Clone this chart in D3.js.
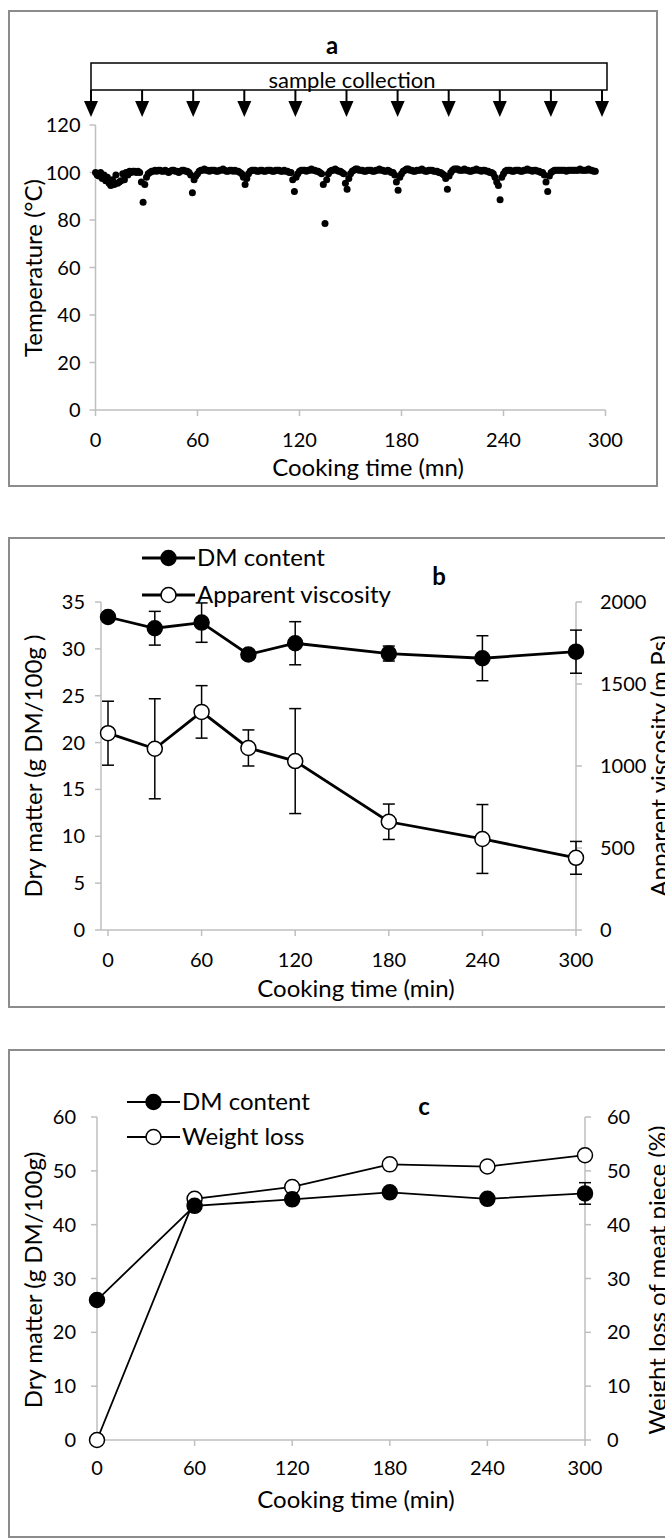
<!DOCTYPE html>
<html><head><meta charset="utf-8">
<script src="https://cdn.jsdelivr.net/npm/d3@7"></script>
<style>body{margin:0;background:#fff} svg text{font-family:Lato,"Open Sans",sans-serif;fill:#000}</style>
</head><body><svg id="chart" width="665" height="1539"></svg>
<script>
// ---------- Panel a data (temperature, one reading per minute) ----------
const tempC = [
/*0*/   100, 99, 98.5, 100, 97.5, 99, 96.5, 98, 95.5, 94.5, 97, 95, 99, 95.5, 96, 96.5, 99.5, 97, 100, 99,
/*20*/  100.5, 100, 100.5, 100.5, 100, 100.5, 100, 96, 87.5, 95, 98, 99.5, 100, 100.5, 100.5, 101, 100.5, 101, 101, 100.5,
/*40*/  100.5, 101, 100.5, 100, 100.5, 101, 101, 100.5, 100.5, 100, 100.5, 101, 101, 100.5, 100.5, 100, 99, 91.5, 97, 98.5,
/*60*/  99.5, 100.5, 101, 101, 101.5, 101, 101, 100.5, 101, 101, 101, 100.5, 100.5, 101, 101, 101.5, 101, 100.5, 100.5, 101,
/*80*/  101, 100.5, 101, 100.5, 100.5, 100, 99.5, 98, 95, 97.5, 99.5, 100.5, 101, 101, 101, 100.5, 100.5, 101, 101, 100.5,
/*100*/ 100.5, 101, 101, 101, 100.5, 100.5, 101, 101, 101, 100.5, 100.5, 101, 100.5, 100.5, 100, 100, 97, 92, 98, 99.5,
/*120*/ 100.5, 101, 101, 101, 100.5, 101, 101, 101.5, 101, 101, 100.5, 100.5, 100, 99.5, 95, 78.5, 97, 99.5, 100.5, 101,
/*140*/ 101, 101.5, 101, 100.5, 100.5, 100, 99.5, 95.5, 93, 97.5, 99.5, 100.5, 101, 101.5, 101.5, 101, 101, 101, 100.5, 100.5,
/*160*/ 101, 101, 101, 100.5, 100.5, 101, 101, 101.5, 101, 101, 100.5, 100.5, 101, 100.5, 100, 100, 99, 96, 92.5, 98,
/*180*/ 99.5, 100.5, 101, 101.5, 101.5, 101, 101, 100.5, 100.5, 101, 101, 101, 101.5, 101, 100.5, 100.5, 101, 101, 101, 100.5,
/*200*/ 100.5, 100.5, 100, 100, 99.5, 99, 97.5, 93, 98.5, 100, 101, 101.5, 101.5, 101.5, 101, 101, 101, 101.5, 101, 101,
/*220*/ 100.5, 100.5, 101, 101, 101.5, 101, 101, 100.5, 101, 101, 100.5, 100.5, 100, 100, 99.5, 98, 96, 94.5, 88.5, 98,
/*240*/ 99.5, 100.5, 101, 101, 101, 100.5, 100.5, 101, 101, 101, 100.5, 100.5, 101, 101, 101.5, 101, 101, 100.5, 101, 101,
/*260*/ 100.5, 100.5, 100, 100, 99, 96, 92, 98.5, 100, 100.5, 101, 101, 101, 101, 101, 101, 101, 100.5, 101, 101,
/*280*/ 101, 101, 101, 101, 101, 101.5, 101, 101, 101, 101, 101.5, 101, 101, 100.5, 100.5
];
const sampleTimes = [0, 30, 60, 90, 120, 150, 180, 210, 240, 270, 300];
const aXTicks = [0, 60, 120, 180, 240, 300];
const aYTicks = [0, 20, 40, 60, 80, 100, 120];

// ---------- Panel b data ----------
const bTimes = [0, 30, 60, 90, 120, 180, 240, 300];
const bDM = [33.4, 32.2, 32.8, 29.4, 30.6, 29.5, 29.0, 29.7];
const bDMerr = [0, 1.8, 2.1, 0, 2.3, 0.8, 2.4, 2.3];
const bVisc = [1200, 1105, 1330, 1110, 1030, 660, 555, 440];
const bViscErr = [195, 305, 160, 110, 320, 108, 210, 100];
const bXTicks = [0, 60, 120, 180, 240, 300];
const bLeftTicks = [0, 5, 10, 15, 20, 25, 30, 35];
const bRightTicks = [0, 500, 1000, 1500, 2000];

// ---------- Panel c data ----------
const cTimes = [0, 60, 120, 180, 240, 300];
const cDM = [26, 43.5, 44.7, 46, 44.8, 45.8];
const cDMerr = [0, 0, 0, 0, 0, 2];
const cWL = [0, 44.8, 47, 51.2, 50.8, 52.9];
const cXTicks = [0, 60, 120, 180, 240, 300];
const cYTicks = [0, 10, 20, 30, 40, 50, 60];

const svg = d3.select("#chart");
const AX = "#bfbfbf", FS = 20, TFS = 24;
svg.append("rect").attr("width", 665).attr("height", 1539).attr("fill", "#fff");

function frame(y0, y1, x1) {
  svg.append("rect").attr("x", 9).attr("y", y0).attr("width", x1 - 9).attr("height", y1 - y0)
    .attr("fill", "none").attr("stroke", "#8c8c8c").attr("stroke-width", 2);
}
function leftAxis(x, y, ticks, gap) {
  const g = svg.append("g");
  g.append("line").attr("x1", x).attr("x2", x).attr("y1", y.range()[0]).attr("y2", y.range()[1]).attr("stroke", AX).attr("stroke-width", 1.5);
  ticks.forEach(t => {
    g.append("line").attr("x1", x - 6).attr("x2", x).attr("y1", y(t)).attr("y2", y(t)).attr("stroke", AX).attr("stroke-width", 1.5);
    g.append("text").attr("x", x - gap).attr("y", y(t)).attr("dy", "0.35em").attr("text-anchor", "end").attr("font-size", FS).text(t);
  });
}
function rightAxis(x, y, ticks, gap) {
  const g = svg.append("g");
  g.append("line").attr("x1", x).attr("x2", x).attr("y1", y.range()[0]).attr("y2", y.range()[1]).attr("stroke", AX).attr("stroke-width", 1.5);
  ticks.forEach(t => {
    g.append("line").attr("x1", x).attr("x2", x + 6).attr("y1", y(t)).attr("y2", y(t)).attr("stroke", AX).attr("stroke-width", 1.5);
    g.append("text").attr("x", x + gap).attr("y", y(t)).attr("dy", "0.35em").attr("text-anchor", "start").attr("font-size", FS).text(t);
  });
}
function bottomAxis(y0, x, ticks, labY) {
  const g = svg.append("g");
  g.append("line").attr("x1", x.range()[0]).attr("x2", x.range()[1]).attr("y1", y0).attr("y2", y0).attr("stroke", AX).attr("stroke-width", 1.5);
  ticks.forEach(t => {
    g.append("line").attr("x1", x(t)).attr("x2", x(t)).attr("y1", y0).attr("y2", y0 + 6).attr("stroke", AX).attr("stroke-width", 1.5);
    g.append("text").attr("x", x(t)).attr("y", labY).attr("dy", "0.35em").attr("text-anchor", "middle").attr("font-size", FS).text(t);
  });
}
function label(txt, x, y, rot, opts = {}) {
  const t = svg.append("text").attr("transform", `translate(${x},${y}) rotate(${rot})`)
    .attr("text-anchor", opts.anchor || "middle").attr("dy", opts.dy || "0.35em").attr("font-size", opts.size || TFS).text(txt);
  if (opts.bold) t.attr("font-weight", "bold");
  return t;
}

// ================= Panel a =================
frame(11, 486, 657);
const xa = d3.scaleLinear().domain([0, 300]).range([95.5, 605.5]);
const ya = d3.scaleLinear().domain([0, 120]).range([410, 125]);
leftAxis(xa(0), ya, aYTicks, 15);
bottomAxis(ya(0), xa, aXTicks, 440);
label("Cooking time (mn)", 368, 468, 0);
label("Temperature (°C)", 34, 268, -90);
label("a", 332, 46, 0, {bold: true, size: 24});
svg.append("g").selectAll("circle").data(tempC).join("circle")
  .attr("cx", (d, i) => xa(i)).attr("cy", d => ya(d)).attr("r", 3.5).attr("fill", "#000");
// sample-collection annotation
const xs = d3.scaleLinear().domain([0, 300]).range([91, 602]);
svg.append("rect").attr("x", xs(0)).attr("y", 63).attr("width", xs(300) - xs(0) + 5).attr("height", 27)
  .attr("fill", "none").attr("stroke", "#000").attr("stroke-width", 1.5);
label("sample collection", 352, 80, 0, {size: 22});
sampleTimes.forEach(t => {
  svg.append("line").attr("x1", xs(t)).attr("x2", xs(t)).attr("y1", 90).attr("y2", 103).attr("stroke", "#000").attr("stroke-width", 2);
  svg.append("path").attr("d", `M${xs(t) - 7},101 L${xs(t) + 7},101 L${xs(t)},117 Z`).attr("fill", "#000");
});

// ================= Panel b =================
frame(538, 1007, 700);
const xb = d3.scaleLinear().domain([0, 300]).range([108, 576]);
const ybL = d3.scaleLinear().domain([0, 35]).range([930, 602]);
const ybR = d3.scaleLinear().domain([0, 2000]).range([930, 602]);
leftAxis(101, ybL, bLeftTicks, 16);
rightAxis(576, ybR, bRightTicks, 24);
svg.append("line").attr("x1", 101).attr("x2", 576).attr("y1", 930).attr("y2", 930).attr("stroke", AX).attr("stroke-width", 1.5);
bXTicks.forEach(t => {
  svg.append("line").attr("x1", xb(t)).attr("x2", xb(t)).attr("y1", 930).attr("y2", 936).attr("stroke", AX).attr("stroke-width", 1.5);
  svg.append("text").attr("x", xb(t)).attr("y", 960).attr("dy", "0.35em").attr("text-anchor", "middle").attr("font-size", FS).text(t);
});
label("Cooking time (min)", 356, 989, 0);
label("Dry matter (g DM/100g )", 34, 766, -90);
label("Apparent viscosity (m.Ps)", 668, 766, -90, {dy: "0"});
label("b", 439, 577, 0, {bold: true, size: 24});

function series(x, y, times, vals, errs, filled, lw, r) {
  const g = svg.append("g");
  g.append("path").datum(times.map((t, i) => [t, vals[i]]))
    .attr("d", d3.line().x(d => x(d[0])).y(d => y(d[1]))).attr("fill", "none").attr("stroke", "#000").attr("stroke-width", lw);
  times.forEach((t, i) => {
    if (errs && errs[i] > 0) {
      const cx = x(t), y1 = y(vals[i] + errs[i]), y2 = y(vals[i] - errs[i]);
      g.append("line").attr("x1", cx).attr("x2", cx).attr("y1", y1).attr("y2", y2).attr("stroke", "#000").attr("stroke-width", 1.5);
      [y1, y2].forEach(yy => g.append("line").attr("x1", cx - 6).attr("x2", cx + 6).attr("y1", yy).attr("y2", yy).attr("stroke", "#000").attr("stroke-width", 1.5));
    }
  });
  g.selectAll("circle").data(times).join("circle").attr("cx", d => x(d)).attr("cy", (d, i) => y(vals[i])).attr("r", r)
    .attr("fill", filled ? "#000" : "#fff").attr("stroke", "#000").attr("stroke-width", 1.5);
}
series(xb, ybR, bTimes, bVisc, bViscErr, false, 2.8, 7.5);
series(xb, ybL, bTimes, bDM, bDMerr, true, 2.8, 7.5);

function legendItem(x0, x1, y, filled, txt, lw) {
  svg.append("line").attr("x1", x0).attr("x2", x1).attr("y1", y).attr("y2", y).attr("stroke", "#000").attr("stroke-width", lw);
  svg.append("circle").attr("cx", (x0 + x1) / 2).attr("cy", y).attr("r", 7.5).attr("fill", filled ? "#000" : "#fff").attr("stroke", "#000").attr("stroke-width", 1.5);
  svg.append("text").attr("x", x1 + 2).attr("y", y).attr("dy", "0.35em").attr("font-size", TFS).text(txt);
}
legendItem(142, 195, 558, true, "DM content", 2.8);
legendItem(142, 195, 595, false, "Apparent viscosity", 2.8);

// ================= Panel c =================
frame(1050, 1537, 700);
const xc = d3.scaleLinear().domain([0, 300]).range([97, 585]);
const ycL = d3.scaleLinear().domain([0, 60]).range([1440, 1117]);
const ycR = d3.scaleLinear().domain([0, 60]).range([1440, 1117]);
leftAxis(97, ycL, cYTicks, 21);
rightAxis(585, ycR, cYTicks, 22);
bottomAxis(1440, xc, cXTicks, 1468);
label("Cooking time (min)", 356, 1500, 0);
label("Dry matter (g DM/100g)", 34, 1280, -90);
label("Weight loss of meat piece (%)", 666, 1280, -90, {dy: "0"});
label("c", 424, 1107, 0, {bold: true, size: 24});
series(xc, ycR, cTimes, cWL, null, false, 1.8, 7.5);
series(xc, ycL, cTimes, cDM, cDMerr, true, 1.8, 7.5);
legendItem(127, 180, 1102, true, "DM content", 1.8);
legendItem(127, 180, 1137, false, "Weight loss", 1.8);
</script></body></html>
